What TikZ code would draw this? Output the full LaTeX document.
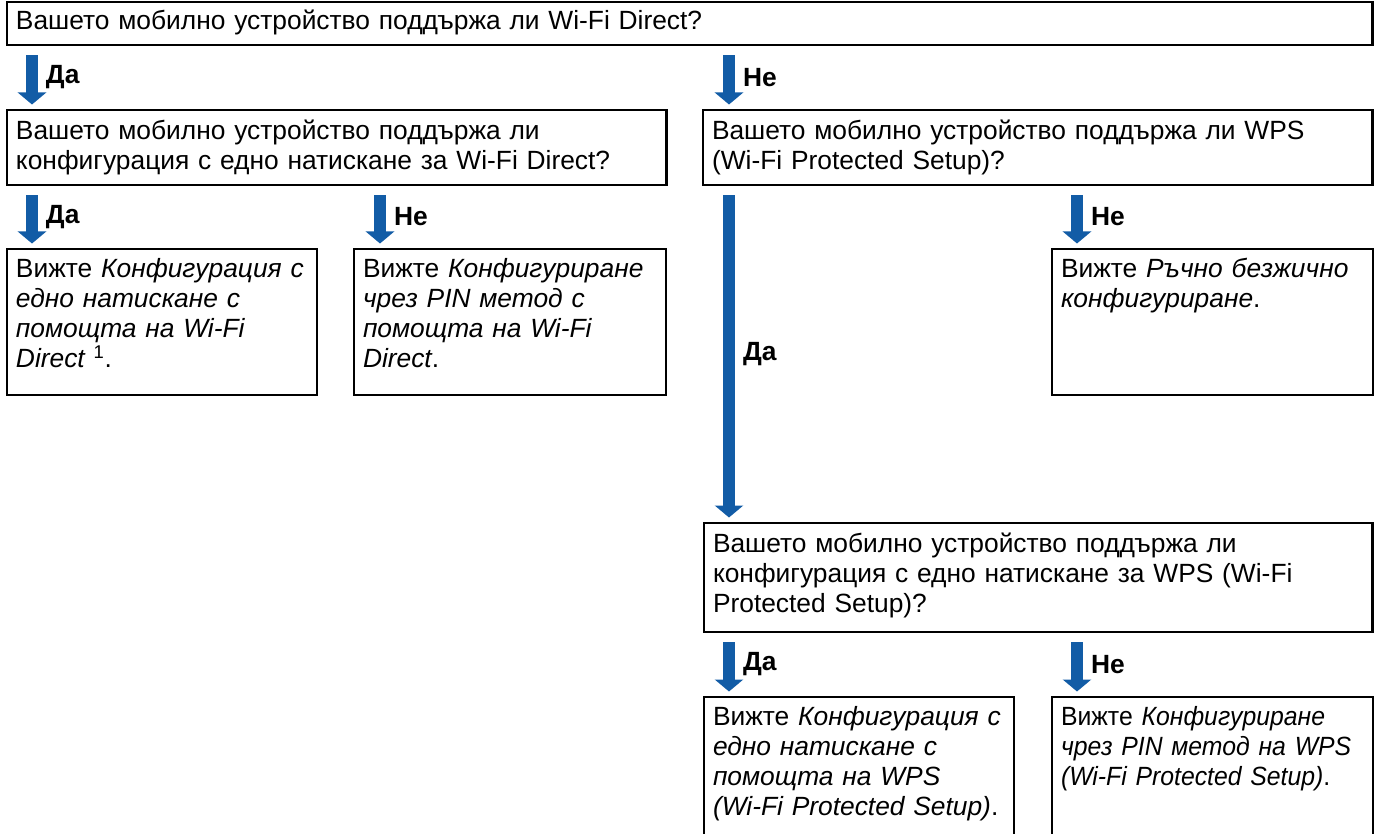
\documentclass[tikz,border=0pt]{standalone}
\usepackage{fontspec}
\setmainfont{Liberation Sans}
\newfontfamily\narrowfont[FakeStretch=0.94]{Liberation Sans}
\usetikzlibrary{arrows.meta}
\definecolor{flowblue}{RGB}{18,92,166}
\begin{document}
\begin{tikzpicture}[x=0.02cm,y=-0.02cm,
  box/.style={draw, line width=1.6pt, anchor=north west, outer sep=0pt,
    inner xsep=0.18cm, inner ysep=0pt, align=left,
    font=\fontsize{15}{17}\selectfont},
  flow/.style={draw=flowblue, line width=0.24cm,
    -{Triangle[width=0.56cm,length=0.24cm]},
    shorten <=0.21cm, shorten >=0.11cm},
  answer/.style={midway, anchor=west, xshift=0.28cm, inner sep=0pt, outer sep=0pt,
    text=black, font=\fontsize{15}{17}\selectfont\bfseries}]
\useasboundingbox (0,0) rectangle (1377,834);
\clip (0,0) rectangle (1377,834);
\coordinate (colA) at (32,0);
\coordinate (colB) at (380,0);
\coordinate (colC) at (729,0);
\coordinate (colD) at (1077,0);
\node[box, text width=26.96cm, text height=0.56cm, text depth=0.3cm] (boxA) at (7,2)
  {Вашето мобилно устройство поддържа ли Wi-Fi Direct?};
\node[box, text width=12.84cm, text height=0.6cm, text depth=0.9cm] (boxB) at (7,110)
  {Вашето мобилно устройство поддържа ли\\конфигурация с едно натискане за Wi-Fi Direct?};
\node[box, text width=13.04cm, text height=0.6cm, text depth=0.9cm] (boxC) at (703,110)
  {Вашето мобилно устройство поддържа ли WPS\\(Wi-Fi Protected Setup)?};
\node[box, text width=5.84cm, text height=0.58cm, text depth=2.34cm] (boxD) at (7,249)
  {Вижте {\itshape Конфигурация с\\едно натискане с\\помощта на Wi-Fi\\Direct} \textsuperscript{1}.};
\node[box, text width=5.88cm, text height=0.58cm, text depth=2.34cm] (boxE) at (354,249)
  {Вижте {\itshape Конфигуриране\\чрез PIN метод с\\помощта на Wi-Fi\\Direct}.};
\node[box, text width=6.06cm, text height=0.58cm, text depth=2.34cm] (boxF) at (1052,249)
  {Вижте {\itshape Ръчно безжично\\конфигуриране}.};
\node[box, text width=13.02cm, text height=0.6cm, text depth=1.58cm] (boxG) at (704,523)
  {Вашето мобилно устройство поддържа ли\\конфигурация с едно натискане за WPS (Wi-Fi\\Protected Setup)?};
\node[box, text width=5.84cm, text height=0.58cm, text depth=3cm] (boxH) at (704,697)
  {Вижте {\itshape Конфигурация с\\едно натискане с\\помощта на WPS\\(Wi-Fi Protected Setup)}.};
\node[box, text width=6.06cm, text height=0.58cm, text depth=3cm,
  font=\fontsize{15}{17}\narrowfont] (boxI) at (1052,697)
  {Вижте {\itshape Конфигуриране\\чрез PIN метод на WPS\\(Wi-Fi Protected Setup)}.};
\draw[flow] (colA |- boxA.south) -- (colA |- boxB.north) node[answer] {Да};
\draw[flow] (colC |- boxA.south) -- (colC |- boxC.north) node[answer] {Не};
\draw[flow] (colA |- boxB.south) -- (colA |- boxD.north) node[answer] {Да};
\draw[flow] (colB |- boxB.south) -- (colB |- boxE.north) node[answer] {Не};
\draw[flow] (colC |- boxC.south) -- (colC |- boxG.north) node[answer] {Да};
\draw[flow] (colD |- boxC.south) -- (colD |- boxF.north) node[answer] {Не};
\draw[flow] (colC |- boxG.south) -- (colC |- boxH.north) node[answer] {Да};
\draw[flow] (colD |- boxG.south) -- (colD |- boxI.north) node[answer] {Не};
\end{tikzpicture}
\end{document}
